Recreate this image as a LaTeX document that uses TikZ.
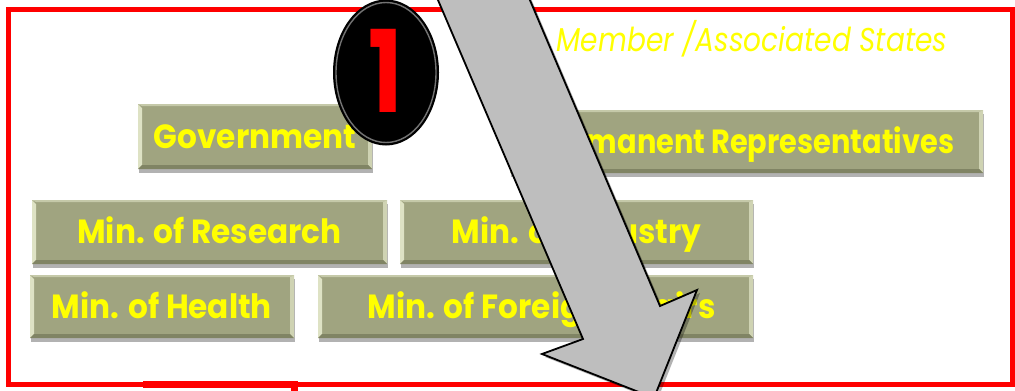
\documentclass[tikz,border=0pt]{standalone}
\usepackage{fontspec}
\setmainfont{Poppins}
\newfontfamily\boxfont[FakeStretch=0.93]{Poppins}
\newfontfamily\narrowboxfont[FakeStretch=0.86]{Poppins}
\newfontfamily\titlefont[FakeStretch=0.85]{Poppins}
\newfontfamily\digitfont[FakeStretch=0.8]{Poppins}
\usetikzlibrary{shadows,calc,fadings,shapes.geometric}

\definecolor{olive}{RGB}{160,164,128}
\definecolor{oliveDark}{RGB}{128,132,100}
\definecolor{oliveLight}{RGB}{222,226,196}
\definecolor{arrowgray}{RGB}{190,190,190}
\definecolor{framered}{RGB}{255,0,0}
\definecolor{labelyellow}{RGB}{255,255,0}

\tikzset{
  olivebox/.style={
    inner sep=0pt, draw=none, fill=olive,
    text=labelyellow, text height=23pt, text depth=0pt,
    font=\boxfont\bfseries\fontsize{33.5}{34}\selectfont,
    drop shadow={shadow xshift=1pt, shadow yshift=-4pt, opacity=0.3, fill=black},
    path picture={
      % bevel: light left/top/right edges, darker bottom edge
      \fill[oliveLight] (path picture bounding box.north west)
        -- ([xshift=4pt,yshift=-4pt]path picture bounding box.north west)
        -- ([xshift=4pt,yshift=4pt]path picture bounding box.south west)
        -- (path picture bounding box.south west) -- cycle;
      \fill[oliveLight!60!olive] (path picture bounding box.north west)
        -- (path picture bounding box.north east)
        -- ([xshift=-4pt,yshift=-2pt]path picture bounding box.north east)
        -- ([xshift=4pt,yshift=-2pt]path picture bounding box.north west) -- cycle;
      \fill[oliveLight!75!olive] (path picture bounding box.north east)
        -- (path picture bounding box.south east)
        -- ([xshift=-4pt,yshift=4pt]path picture bounding box.south east)
        -- ([xshift=-4pt,yshift=-2pt]path picture bounding box.north east) -- cycle;
      \fill[oliveDark] (path picture bounding box.south west)
        -- (path picture bounding box.south east)
        -- ([xshift=-4pt,yshift=4pt]path picture bounding box.south east)
        -- ([xshift=4pt,yshift=4pt]path picture bounding box.south west) -- cycle;
    }
  },
  frameline/.style={draw=framered, line width=5pt},
  blockarrow/.style={fill=arrowgray, draw=black, line width=1.8pt, line join=miter,
    drop shadow={shadow xshift=3pt, shadow yshift=-3pt, opacity=0.3, fill=black}},
}

\begin{document}
\begin{tikzpicture}[x=1pt,y=-1pt]
  \useasboundingbox (0,0) rectangle (1015,391);

  % outer red frame and the edge of the box below it
  \draw[frameline] (8,9.5) rectangle (1012,384);
  \draw[draw=framered, line width=7pt] (143,384) -- (294,384) -- (294,400);

  % heading
  \node[text=labelyellow, font=\titlefont\itshape\fontsize{33}{33}\selectfont]
    (head) at (752,39) {Member /Associated States};

  % bodies
  \node[olivebox, minimum width=234pt, minimum height=65pt] (gov)  at (255,136.5) {Government};
  \node[olivebox, minimum width=473pt, minimum height=63pt,
        font=\narrowboxfont\bfseries\fontsize{33.5}{34}\selectfont] (perm) at (746.5,141.5) {Permanent Representatives};
  \node[olivebox, minimum width=355pt, minimum height=64pt] (res)  at (209.5,232) {Min. of Research};
  \node[olivebox, minimum width=353pt, minimum height=64pt] (ind)  at (576.5,232) {Min. of Industry};
  \node[olivebox, minimum width=264pt, minimum height=63pt] (hea)  at (162,306.5) {Min. of Health};
  \node[olivebox, minimum width=435pt, minimum height=63pt] (for)  at (535.5,306.5) {\hspace*{12pt}Min. of Foreign Affairs};

  % step badge
  \node[ellipse, fill=black, minimum width=106pt, minimum height=146pt, inner sep=0pt,
        text=framered, text height=80pt, text depth=0pt,
        font=\digitfont\bfseries\fontsize{114}{114}\selectfont] (badge) at (386,72.5) {1};
  \draw[white, opacity=0.45, line width=1.4pt] (badge.center) ellipse [x radius=50pt, y radius=70pt];

  % big block arrow
  \coordinate (a1) at (429.4,-20);
  \coordinate (a2) at (583,339);
  \coordinate (a3) at (542,354);
  \coordinate (a4) at (654,398);
  \coordinate (a5) at (697,290);
  \coordinate (a6) at (660,306);
  \coordinate (a7) at (521.4,-20);
  \path[blockarrow] (a1) -- (a2) -- (a3) -- (a4) -- (a5) -- (a6) -- (a7) -- cycle;
\end{tikzpicture}
\end{document}
